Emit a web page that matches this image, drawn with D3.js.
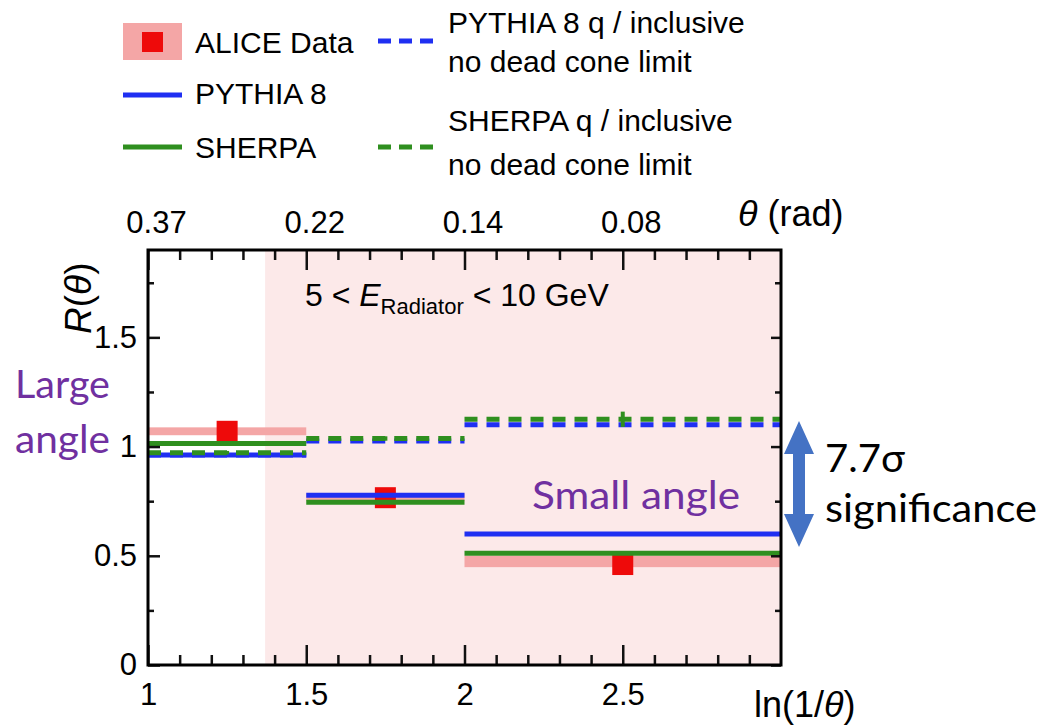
<!DOCTYPE html>
<html>
<head>
<meta charset="utf-8">
<script src="https://cdn.jsdelivr.net/npm/d3@7"></script>
<style>
  body { margin: 0; background: #fff; }
  svg { display: block; }
  text { font-family: "Liberation Sans", Arial, sans-serif; fill: #000; }
  .note { font-family: Lato, "Open Sans", sans-serif; }
</style>
</head>
<body>
<svg id="chart" width="1056" height="726"></svg>
<script>
// ln(1/theta) bins and the measured / simulated R(theta)
var binEdges = [1, 1.5, 2, 3];
var binCenters = [1.25, 1.75, 2.5];
var shadeFrom = 1.37;

var aliceValues = [1.07, 0.766, 0.46];
var aliceSysLow = [1.052, 0.75, 0.448];
var aliceSysHigh = [1.088, 0.785, 0.50];

var pythiaValues = [0.962, 0.777, 0.60];
var sherpaValues = [1.014, 0.745, 0.512];
var pythiaNoDeadCone = [0.962, 1.026, 1.10];
var sherpaNoDeadCone = [0.972, 1.037, 1.125];
var sherpaNoDeadConeErr = [0.008, 0.01, 0.035];

var bottomTicks = [1, 1.5, 2, 2.5];
var bottomTickLabels = ["1", "1.5", "2", "2.5"];
var topTickLabels = ["0.37", "0.22", "0.14", "0.08"];
var leftTicks = [0, 0.5, 1, 1.5];
var leftTickLabels = ["0", "0.5", "1", "1.5"];

var colors = {
    band: "#f4a6a6",
    shade: "#fce9e9",
    red: "#ee0a0a",
    blue: "#1f2ff2",
    green: "#2f8f1f",
    purple: "#7030a0",
    arrow: "#4472c4"
};

var svg = d3.select("#chart");
svg.append("rect").attr("width", 1056).attr("height", 726).attr("fill", "#fff");

var x = d3.scaleLinear().domain([1, 3]).range([148, 781]);
var y = d3.scaleLinear().domain([0, 1.9]).range([665, 250]);

// shaded region (small angles)
svg.append("rect")
    .attr("x", x(shadeFrom)).attr("y", y(1.9))
    .attr("width", x(3) - x(shadeFrom)).attr("height", y(0) - y(1.9))
    .attr("fill", colors.shade);

var bins = d3.range(binCenters.length).map(function(i) {
    return {
        x0: binEdges[i], x1: binEdges[i + 1], xc: binCenters[i],
        alice: aliceValues[i], lo: aliceSysLow[i], hi: aliceSysHigh[i],
        pythia: pythiaValues[i], sherpa: sherpaValues[i],
        pythiaQ: pythiaNoDeadCone[i], sherpaQ: sherpaNoDeadCone[i], sherpaQErr: sherpaNoDeadConeErr[i]
    };
});

var plot = svg.append("g");

// ALICE systematic band
plot.selectAll(".band").data(bins).enter().append("rect")
    .attr("x", function(d) { return x(d.x0); })
    .attr("width", function(d) { return x(d.x1) - x(d.x0); })
    .attr("y", function(d) { return y(d.hi); })
    .attr("height", function(d) { return y(d.lo) - y(d.hi); })
    .attr("fill", colors.band);

// ALICE points
var sq = 21;
plot.selectAll(".pt").data(bins).enter().append("rect")
    .attr("x", function(d) { return x(d.xc) - sq / 2; })
    .attr("y", function(d) { return y(d.alice) - sq / 2; })
    .attr("width", sq).attr("height", sq)
    .attr("fill", colors.red);

function steps(key, color, dash) {
    plot.selectAll(".s-" + key).data(bins).enter().append("line")
        .attr("x1", function(d) { return x(d.x0); })
        .attr("x2", function(d) { return x(d.x1); })
        .attr("y1", function(d) { return y(d[key]); })
        .attr("y2", function(d) { return y(d[key]); })
        .attr("stroke", color)
        .attr("stroke-width", 5)
        .attr("stroke-dasharray", dash || null);
}

steps("pythiaQ", colors.blue, "13,9");
steps("pythia", colors.blue);
steps("sherpa", colors.green);
steps("sherpaQ", colors.green, "13,9");

plot.selectAll(".err").data(bins).enter().append("line")
    .attr("x1", function(d) { return x(d.xc); })
    .attr("x2", function(d) { return x(d.xc); })
    .attr("y1", function(d) { return y(d.sherpaQ + d.sherpaQErr); })
    .attr("y2", function(d) { return y(d.sherpaQ - d.sherpaQErr); })
    .attr("stroke", colors.green)
    .attr("stroke-width", 4);

// axes
var minorX = d3.range(1.1, 3, 0.1).filter(function(v) { return Math.abs(v * 2 - Math.round(v * 2)) > 0.01; });
var minorY = [0.25, 0.75, 1.25, 1.75];

function styleAxis(g) {
    g.select(".domain").remove();
    g.selectAll("line").attr("stroke", "#111").attr("stroke-width", 2.5);
    g.selectAll("text").attr("font-family", "Liberation Sans, Arial, sans-serif").attr("font-size", 31).attr("fill", "#000");
}

svg.append("g").attr("transform", "translate(0," + y(0) + ")")
    .call(d3.axisBottom(x).tickValues(bottomTicks)
        .tickFormat(function(d, i) { return bottomTickLabels[i]; })
        .tickSizeInner(-20).tickSizeOuter(0).tickPadding(18))
    .call(styleAxis);
svg.append("g").attr("transform", "translate(0," + y(0) + ")")
    .call(d3.axisBottom(x).tickValues(minorX).tickFormat("").tickSizeInner(-10).tickSizeOuter(0))
    .call(styleAxis);

svg.append("g").attr("transform", "translate(0," + y(1.9) + ")")
    .call(d3.axisTop(x).tickValues(bottomTicks)
        .tickFormat(function(d, i) { return topTickLabels[i]; })
        .tickSizeInner(-20).tickSizeOuter(0).tickPadding(17))
    .call(styleAxis)
    .selectAll("text").attr("dx", 8);
svg.append("g").attr("transform", "translate(0," + y(1.9) + ")")
    .call(d3.axisTop(x).tickValues(minorX).tickFormat("").tickSizeInner(-10).tickSizeOuter(0))
    .call(styleAxis);

svg.append("g").attr("transform", "translate(" + x(1) + ",0)")
    .call(d3.axisLeft(y).tickValues(leftTicks)
        .tickFormat(function(d, i) { return leftTickLabels[i]; })
        .tickSizeInner(-12).tickSizeOuter(0).tickPadding(11))
    .call(styleAxis);
svg.append("g").attr("transform", "translate(" + x(1) + ",0)")
    .call(d3.axisLeft(y).tickValues(minorY).tickFormat("").tickSizeInner(-6).tickSizeOuter(0))
    .call(styleAxis);

svg.append("g").attr("transform", "translate(" + x(3) + ",0)")
    .call(d3.axisRight(y).tickValues(leftTicks).tickFormat("").tickSizeInner(-10).tickSizeOuter(0))
    .call(styleAxis);
svg.append("g").attr("transform", "translate(" + x(3) + ",0)")
    .call(d3.axisRight(y).tickValues(minorY).tickFormat("").tickSizeInner(-6).tickSizeOuter(0))
    .call(styleAxis);

// frame
svg.append("rect")
    .attr("x", x(1)).attr("y", y(1.9))
    .attr("width", x(3) - x(1)).attr("height", y(0) - y(1.9))
    .attr("fill", "none").attr("stroke", "#000").attr("stroke-width", 3);

// axis titles
var yt = svg.append("text").attr("transform", "translate(91,334) rotate(-90)").attr("font-size", 37);
yt.append("tspan").attr("font-style", "italic").text("R");
yt.append("tspan").text("(");
yt.append("tspan").attr("font-style", "italic").text("θ");
yt.append("tspan").text(")");

var tt = svg.append("text").attr("x", 738).attr("y", 226).attr("font-size", 36);
tt.append("tspan").attr("font-style", "italic").text("θ");
tt.append("tspan").text(" (rad)");

var bt = svg.append("text").attr("x", 754).attr("y", 717).attr("font-size", 36);
bt.append("tspan").text("ln(1/");
bt.append("tspan").attr("font-style", "italic").text("θ");
bt.append("tspan").text(")");

// energy range label
var el = svg.append("text").attr("x", 305).attr("y", 306).attr("font-size", 32);
el.append("tspan").text("5 < ");
el.append("tspan").attr("font-style", "italic").text("E");
el.append("tspan").attr("font-size", 22).attr("dy", 8).text("Radiator");
el.append("tspan").attr("dy", -8).text(" < 10 GeV");

// legend
var leg = svg.append("g");
leg.append("rect").attr("x", 123).attr("y", 23).attr("width", 59).attr("height", 37).attr("fill", colors.band);
leg.append("rect").attr("x", 142).attr("y", 32).attr("width", 21).attr("height", 20).attr("fill", colors.red);
leg.append("line").attr("x1", 123).attr("x2", 182).attr("y1", 95).attr("y2", 95).attr("stroke", colors.blue).attr("stroke-width", 5);
leg.append("line").attr("x1", 123).attr("x2", 182).attr("y1", 147).attr("y2", 147).attr("stroke", colors.green).attr("stroke-width", 5);
leg.append("line").attr("x1", 378).attr("x2", 433).attr("y1", 41).attr("y2", 41).attr("stroke", colors.blue).attr("stroke-width", 5).attr("stroke-dasharray", "13,8");
leg.append("line").attr("x1", 378).attr("x2", 433).attr("y1", 147).attr("y2", 147).attr("stroke", colors.green).attr("stroke-width", 5).attr("stroke-dasharray", "13,8");

var legendText = [
    { x: 195, y: 53, t: "ALICE Data" },
    { x: 195, y: 104, t: "PYTHIA 8" },
    { x: 195, y: 158, t: "SHERPA" },
    { x: 448, y: 33, t: "PYTHIA 8 q / inclusive" },
    { x: 448, y: 72, t: "no dead cone limit" },
    { x: 448, y: 131, t: "SHERPA q / inclusive" },
    { x: 448, y: 175, t: "no dead cone limit" }
];
leg.selectAll(".lt").data(legendText).enter().append("text")
    .attr("x", function(d) { return d.x; })
    .attr("y", function(d) { return d.y; })
    .attr("font-size", 30)
    .text(function(d) { return d.t; });

// annotations
var notes = [
    { x: 15, y: 398, t: "Large", c: colors.purple, w: 95 },
    { x: 15, y: 453, t: "angle", c: colors.purple, w: 95 },
    { x: 532, y: 509, t: "Small angle", c: colors.purple, w: 208 },
    { x: 825, y: 472, t: "7.7σ", c: "#000", w: 80 },
    { x: 825, y: 522, t: "significance", c: "#000", w: 212 }
];
svg.selectAll(".note").data(notes).enter().append("text")
    .attr("class", "note")
    .attr("x", function(d) { return d.x; })
    .attr("y", function(d) { return d.y; })
    .attr("font-size", 39)
    .attr("textLength", function(d) { return d.w; })
    .attr("lengthAdjust", "spacingAndGlyphs")
    .style("fill", function(d) { return d.c; })
    .text(function(d) { return d.t; });

// double arrow
var arrowX = 799, arrowTop = 421, arrowBot = 547, headW = 15, headH = 33, shaftW = 6;
var arrowPts = [
    [arrowX, arrowTop], [arrowX + headW, arrowTop + headH], [arrowX + shaftW, arrowTop + headH],
    [arrowX + shaftW, arrowBot - headH], [arrowX + headW, arrowBot - headH], [arrowX, arrowBot],
    [arrowX - headW, arrowBot - headH], [arrowX - shaftW, arrowBot - headH], [arrowX - shaftW, arrowTop + headH],
    [arrowX - headW, arrowTop + headH]
];
svg.append("path")
    .attr("d", "M" + arrowPts.map(function(p) { return p.join(","); }).join("L") + "Z")
    .attr("fill", colors.arrow);
</script>
</body>
</html>
